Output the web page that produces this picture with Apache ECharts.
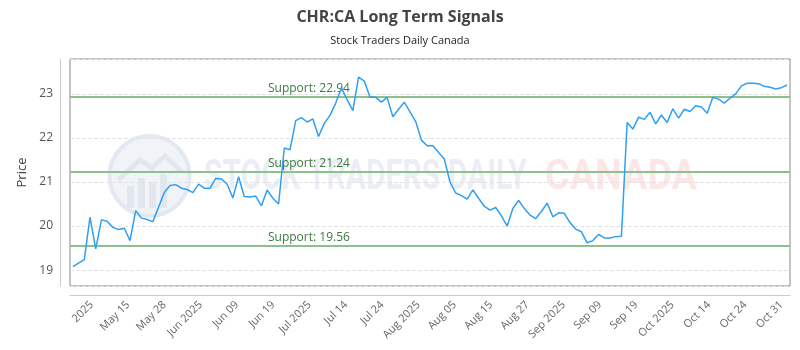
<!DOCTYPE html>
<html><head><meta charset="utf-8">
<script src="https://cdn.jsdelivr.net/npm/echarts@6/dist/echarts.min.js"></script>
<style>html,body{margin:0;padding:0;background:#fff}#c{width:800px;height:350px}</style>
</head><body><div id="c"></div>
<script>
const prices = [19.08,19.16,19.24,20.20,19.48,20.14,20.11,19.97,19.92,19.95,
19.67,20.35,20.18,20.15,20.10,20.43,20.76,20.92,20.94,20.86,
20.83,20.76,20.95,20.86,20.86,21.08,21.07,20.95,20.64,21.12,
20.67,20.66,20.68,20.46,20.82,20.63,20.50,21.77,21.73,22.39,
22.46,22.36,22.43,22.03,22.33,22.51,22.79,23.13,22.87,22.62,
23.38,23.29,22.92,22.92,22.81,22.92,22.48,22.65,22.81,22.59,
22.37,21.95,21.82,21.82,21.67,21.52,21.00,20.75,20.69,20.61,
20.82,20.63,20.45,20.36,20.42,20.23,20.00,20.40,20.58,20.40,
20.25,20.17,20.33,20.52,20.21,20.30,20.29,20.08,19.93,19.87,
19.62,19.67,19.81,19.73,19.73,19.76,19.77,22.35,22.20,22.47,
22.42,22.58,22.32,22.52,22.35,22.66,22.45,22.65,22.60,22.73,
22.70,22.56,22.92,22.88,22.79,22.90,23.00,23.18,23.24,23.24,
23.23,23.17,23.15,23.11,23.14,23.20];
const tickLabels = ['2025','May 15','May 28','Jun 2025','Jun 09','Jun 19','Jul 2025','Jul 14','Jul 24','Aug 2025',
  'Aug 05','Aug 15','Aug 27','Sep 2025','Sep 09','Sep 19','Oct 2025','Oct 14','Oct 24','Oct 31'];
const supportLevels = [22.94, 21.24, 19.56];
const yTicks = [19, 20, 21, 22, 23];

const categories = prices.map((_, i) => String(i));

function measure(text, font) {
  const c = document.createElement('canvas').getContext('2d');
  c.font = font; return c.measureText(text).width;
}
const wmFont = 'bold 42px Roboto';
const wm1 = 'STOCK TRADERS DAILY', wm2 = 'CANADA';
const s1 = 323 / measure(wm1, wmFont), s2 = 152 / measure(wm2, wmFont);

const labelStep = 36.3;
const chart = echarts.init(document.getElementById('c'), null, {renderer: 'canvas'});
chart.setOption({
  animation: false,
  backgroundColor: '#fff',
  title: {
    text: 'CHR:CA Long Term Signals',
    subtext: 'Stock Traders Daily Canada',
    left: 'center', top: 4, itemGap: 10,
    textStyle: {fontFamily: 'Open Sans', fontSize: 16, fontWeight: 'bold', color: '#444'},
    subtextStyle: {fontFamily: 'Open Sans', fontSize: 11, color: '#222'}
  },
  graphic: [
    {type: 'circle', silent: true, z: -10, shape: {cx: 149.5, cy: 176, r: 40},
      style: {fill: '#f0f3f8', stroke: '#e4e9f1', lineWidth: 4}},
    {type: 'polyline', silent: true, z: -9, shape: {points: [[118,180],[140,160],[152,168],[165,156],[182,172]]},
      style: {stroke: '#e2e7ef', lineWidth: 5, fill: null}},
    {type: 'rect', silent: true, z: -9, shape: {x: 127, y: 186, width: 7, height: 22}, style: {fill: '#e2e7ef'}},
    {type: 'rect', silent: true, z: -9, shape: {x: 138, y: 178, width: 7, height: 30}, style: {fill: '#e2e7ef'}},
    {type: 'rect', silent: true, z: -9, shape: {x: 149, y: 182, width: 7, height: 26}, style: {fill: '#e2e7ef'}},
    {type: 'rect', silent: true, z: -9, shape: {x: 160, y: 174, width: 7, height: 34}, style: {fill: '#e2e7ef'}},
    {type: 'text', silent: true, z: -9, x: 204, y: 178, scaleX: s1, originX: 0,
      style: {text: wm1, font: wmFont, fill: '#ebeff5', textVerticalAlign: 'middle'}},
    {type: 'text', silent: true, z: -9, x: 545, y: 178, scaleX: s2, originX: 0,
      style: {text: wm2, font: wmFont, fill: '#fde6e6', textVerticalAlign: 'middle'}}
  ],
  grid: {left: 70, right: 10, top: 59, bottom: 64, show: true, borderColor: '#888', borderWidth: 1, backgroundColor: 'transparent'},
  xAxis: [
    {type: 'category', data: categories, boundaryGap: true, show: false},
    {type: 'value', position: 'bottom', offset: 9, min: -0.6, max: 720 / labelStep - 0.6, interval: 0.2,
      axisLine: {show: true, onZero: false, lineStyle: {color: '#ccc'}}, axisTick: {show: false}, splitLine: {show: false},
      axisLabel: {rotate: 45, margin: 8, fontFamily: 'Open Sans', fontSize: 11, color: '#666',
        showMinLabel: false, showMaxLabel: false,
        formatter: v => {
          const r = Math.round(v);
          return (Math.abs(v - r) < 1e-6 && tickLabels[r] !== undefined) ? tickLabels[r] : '';
        }}}
  ],
  yAxis: {
    type: 'value', min: 18.64, max: 23.79, offset: 10,
    name: 'Price', nameLocation: 'middle', nameGap: 26,
    nameTextStyle: {fontFamily: 'Open Sans', fontSize: 13, color: '#444'},
    axisLine: {show: true, onZero: false, lineStyle: {color: '#ccc'}}, axisTick: {show: false},
    axisLabel: {fontFamily: 'Open Sans', fontSize: 12, color: '#555', margin: 7,
      showMinLabel: false, showMaxLabel: false,
      formatter: v => yTicks.includes(Math.round(v * 100) / 100) ? String(Math.round(v)) : ''},
    splitLine: {show: true, lineStyle: {color: '#e3e3e3', type: 'dashed'}}
  },
  series: [{
    type: 'line', xAxisIndex: 0, data: prices, showSymbol: false, z: 5,
    lineStyle: {color: '#2f9ff3', width: 1.5},
    itemStyle: {color: '#2f9ff3'},
    markLine: {
      silent: true, symbol: 'none', z: 3,
      lineStyle: {color: '#8cc08c', width: 2, type: 'solid'},
      label: {position: 'insideStartTop', distance: [198, 2], fontFamily: 'Open Sans', fontSize: 12, color: '#3d7a3d',
        formatter: p => 'Support: ' + p.value},
      data: supportLevels.map(v => ({yAxis: v}))
    }
  }]
});
</script></body></html>
